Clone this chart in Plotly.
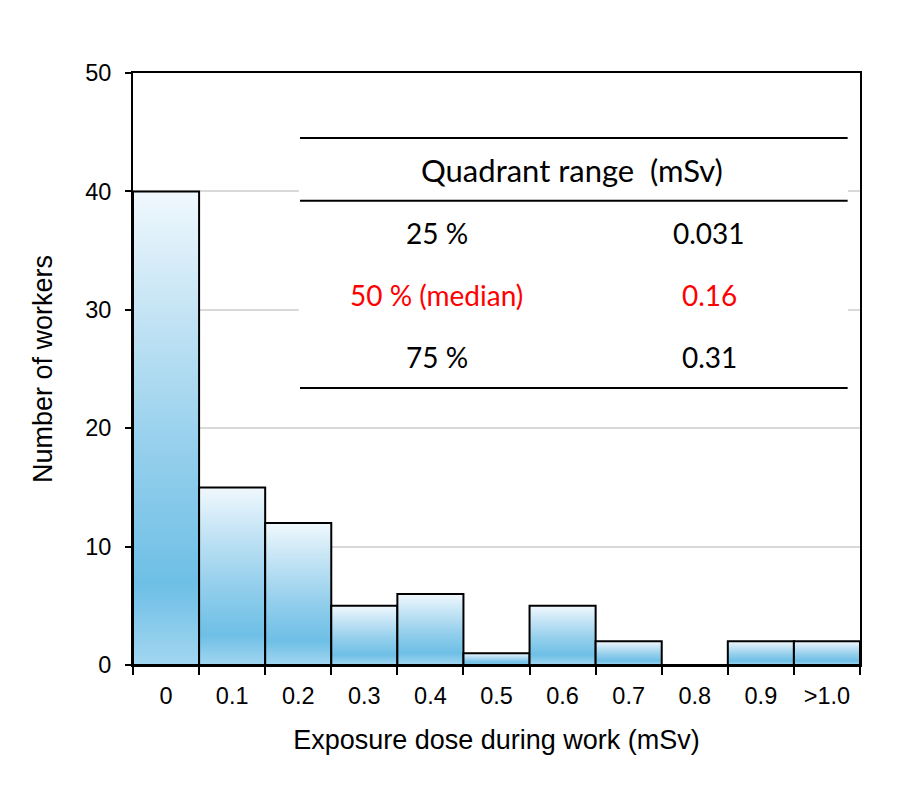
import plotly.graph_objects as go

# ---- data ----
categories = ["0", "0.1", "0.2", "0.3", "0.4", "0.5", "0.6", "0.7", "0.8", "0.9", ">1.0"]
counts = [40, 15, 12, 5, 6, 1, 5, 2, 0, 2, 2]

table_header = "Quadrant range  (mSv)"
quantile_labels = ["25 %", "50 % (median)", "75 %"]
quantile_values = ["0.031", "0.16", "0.31"]
quantile_colors = ["black", "red", "black"]

gradient = [[0.0, "#a2d6f0"], [0.17, "#6ebfe6"], [0.45, "#94cfec"],
            [0.72, "#c0e2f4"], [1.0, "#f0f8fd"]]

fig = go.Figure()

# histogram bars drawn as filled outlines (gradient fill), one per category
for i, v in enumerate(counts):
    xs = [i - 0.5, i - 0.5, i + 0.5, i + 0.5, i - 0.5]
    ys = [0, v, v, 0, 0]
    fig.add_trace(go.Scatter(
        x=xs, y=ys, mode="lines", fill="toself",
        fillgradient=dict(type="vertical", colorscale=gradient),
        line=dict(color="black", width=2),
        showlegend=False, hoverinfo="skip"))

# white box behind the table (hides gridlines; drawn above grid, below traces)
fig.add_shape(type="rect", xref="x", yref="y",
              x0=2.01, x1=10.32, y0=22, y1=46.5,
              fillcolor="white", line=dict(width=0), layer="between")

# table lines
for yl in [0.890, 0.784, 0.468]:
    fig.add_shape(type="line", xref="paper", yref="paper",
                  x0=0.2297, x1=0.983, y0=yl, y1=yl,
                  line=dict(color="black", width=2))

tfont = "Lato, Carlito, Calibri, sans-serif"
fig.add_annotation(xref="paper", yref="paper", x=0.604, y=0.836,
                   xanchor="center", yanchor="middle",
                   text=table_header, showarrow=False,
                   font=dict(family=tfont, size=31, color="black"))
row_y = [0.730, 0.625, 0.520]
for lab, val, col, yy in zip(quantile_labels, quantile_values, quantile_colors, row_y):
    fig.add_annotation(xref="paper", yref="paper", x=0.418, y=yy, text=lab,
                       xanchor="center", yanchor="middle",
                       showarrow=False, font=dict(family=tfont, size=28, color=col))
    fig.add_annotation(xref="paper", yref="paper", x=0.7925, y=yy, text=val,
                       xanchor="center", yanchor="middle",
                       showarrow=False, font=dict(family=tfont, size=28, color=col))

afont = "Liberation Sans, Arial, sans-serif"
fig.update_layout(
    width=922, height=788,
    margin=dict(l=133, r=62, t=73, b=123),
    paper_bgcolor="white", plot_bgcolor="white",
    font=dict(family=afont, color="black"),
    showlegend=False,
    xaxis=dict(
        range=[-0.5, 10.5], tickmode="array",
        tickvals=list(range(len(categories))), ticktext=categories,
        ticks="", showgrid=False, zeroline=False,
        showline=True, linecolor="black", linewidth=2, mirror=True,
        tickfont=dict(size=23.5), ticklabelstandoff=9,
        minor=dict(tickmode="array",
                   tickvals=[i + 0.5 for i in range(-1, len(categories))],
                   ticks="outside", ticklen=8, tickwidth=2, tickcolor="black",
                   showgrid=False),
        title=dict(text="Exposure dose during work (mSv)", font=dict(size=27), standoff=22),
    ),
    yaxis=dict(
        range=[0, 50], tickvals=[0, 10, 20, 30, 40, 50],
        ticks="outside", ticklen=6, tickwidth=2, tickcolor="black",
        showgrid=True, gridcolor="#d9d9d9", gridwidth=1.5, zeroline=False,
        showline=True, linecolor="black", linewidth=2, mirror=True,
        tickfont=dict(size=23.5), ticklabelstandoff=9,
        title=dict(text="Number of workers", font=dict(size=27), standoff=25),
    ),
)

fig.write_html("out.html", config={"displayModeBar": False},
               post_script="document.body.style.margin='0px';")
